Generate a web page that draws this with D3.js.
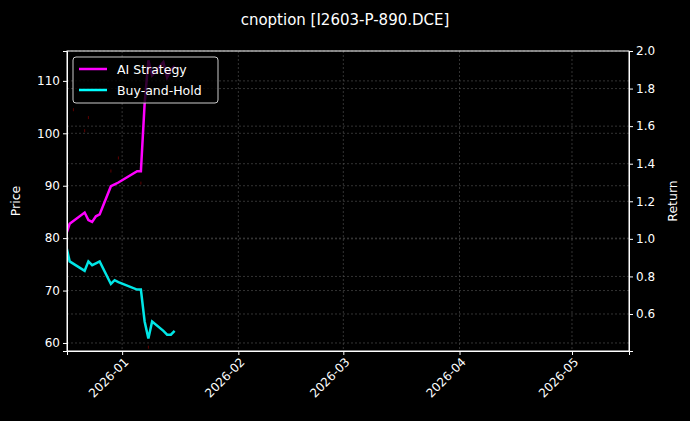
<!DOCTYPE html>
<html>
<head>
<script src="https://d3js.org/d3.v7.min.js"></script>
<style>
  body { margin: 0; background: #000; }
  text { font-family: "DejaVu Sans", sans-serif; fill: #fff; }
</style>
</head>
<body>
<svg id="chart" width="690" height="421"></svg>
<script>
// trading dates and series
var dates = ["2025-12-17","2025-12-18","2025-12-22","2025-12-23","2025-12-24","2025-12-25","2025-12-26",
             "2025-12-29","2025-12-30","2025-12-31","2026-01-05","2026-01-06","2026-01-07","2026-01-08",
             "2026-01-09","2026-01-12","2026-01-13","2026-01-14","2026-01-15"];
var aiReturn = [1.02, 1.08, 1.14, 1.10, 1.09, 1.12, 1.13, 1.28, 1.29, 1.30, 1.36, 1.36, 1.72, 1.95,
                1.87, 1.94, 1.86, 1.90, 1.92];
var bhReturn = [0.97, 0.88, 0.83, 0.88, 0.86, 0.87, 0.88, 0.76, 0.78, 0.77, 0.73, 0.73, 0.56, 0.47,
                0.56, 0.51, 0.49, 0.49, 0.51];
var priceDates = ["2025-12-19","2025-12-22","2025-12-23","2025-12-26","2025-12-29","2025-12-31","2026-01-06","2026-01-08"];
var priceVals = [104.5, 100.5, 103.0, 108.5, 92.8, 95.3, 90.5, 59.2];
var priceTicks = [60, 70, 80, 90, 100, 110];
var returnTicks = [0.6, 0.8, 1.0, 1.2, 1.4, 1.6, 1.8, 2.0];

var parse = d3.timeParse("%Y-%m-%d");
var svg = d3.select("#chart");
var L = 67, R = 629, T = 51, B = 351;

var x = d3.scaleTime().domain([new Date(2025, 11, 17, 7), new Date(2026, 4, 16, 5)]).range([L, R]);
var yP = d3.scaleLinear().domain([58.47, 115.7]).range([B, T]);
var yR = d3.scaleLinear().domain([0.403, 2.0]).range([B, T]);

svg.append("rect").attr("width", 690).attr("height", 421).attr("fill", "#000");

var xTicks = [parse("2026-01-01"), parse("2026-02-01"), parse("2026-03-01"), parse("2026-04-01"), parse("2026-05-01")];

// grid
var grid = svg.append("g").attr("stroke", "#555").attr("stroke-dasharray", "2,2").attr("stroke-width", 0.6);
xTicks.forEach(function (d) { grid.append("line").attr("x1", x(d)).attr("x2", x(d)).attr("y1", T).attr("y2", B); });
priceTicks.forEach(function (d) { grid.append("line").attr("x1", L).attr("x2", R).attr("y1", yP(d)).attr("y2", yP(d)); });
returnTicks.forEach(function (d) { grid.append("line").attr("x1", L).attr("x2", R).attr("y1", yR(d)).attr("y2", yR(d)); });

svg.append("defs").append("clipPath").attr("id", "clip")
  .append("rect").attr("x", L).attr("y", T).attr("width", R - L).attr("height", B - T);

var plot = svg.append("g").attr("clip-path", "url(#clip)");

// price marks (faint)
plot.selectAll(".pd").data(priceVals).enter().append("rect")
  .attr("x", (d, i) => x(parse(priceDates[i])) - 0.5)
  .attr("y", d => yP(d) - 1.5).attr("width", 1).attr("height", 3)
  .attr("fill", "#b00").attr("opacity", 0.5);

var line = d3.line().x((d, i) => x(parse(dates[i]))).y(d => yR(d));
plot.append("path").datum(aiReturn).attr("d", line).attr("fill", "none").attr("stroke", "#ff00ff").attr("stroke-width", 2.5);
plot.append("path").datum(bhReturn).attr("d", line).attr("fill", "none").attr("stroke", "#00ffff").attr("stroke-width", 2.5).attr("opacity", 0.9);

// axes
function style(g) {
  g.selectAll("path, line").attr("stroke", "#fff");
  g.selectAll("text").attr("fill", "#fff").style("font-size", "12px").style("font-family", "DejaVu Sans");
}
svg.append("g").attr("transform", `translate(0,${B})`)
  .call(d3.axisBottom(x).tickValues(xTicks).tickFormat(d3.timeFormat("%Y-%m")).tickSizeOuter(0).tickSize(4))
  .call(style)
  .selectAll("text").attr("text-anchor", "end").attr("dx", "-0.3em").attr("dy", "0.5em")
  .attr("transform", "rotate(-45)");
svg.append("g").attr("transform", `translate(${L},0)`)
  .call(d3.axisLeft(yP).tickValues(priceTicks).tickSizeOuter(0).tickSize(4)).call(style);
svg.append("g").attr("transform", `translate(${R},0)`)
  .call(d3.axisRight(yR).tickValues(returnTicks).tickFormat(d3.format(".1f")).tickSizeOuter(0).tickSize(4)).call(style);
svg.append("rect").attr("x", L).attr("y", T).attr("width", R - L).attr("height", B - T)
  .attr("fill", "none").attr("stroke", "#fff").attr("stroke-width", 1);

svg.append("text").attr("transform", "translate(20,201)rotate(-90)").attr("text-anchor", "middle").style("font-size", "12.5px").text("Price");
svg.append("text").attr("transform", "translate(677,201)rotate(-90)").attr("text-anchor", "middle").style("font-size", "12.5px").text("Return");
svg.append("text").attr("x", 345).attr("y", 25).attr("text-anchor", "middle").style("font-size", "15px").text("cnoption [I2603-P-890.DCE]");

// legend
var leg = svg.append("g").attr("transform", "translate(73,57)");
leg.append("rect").attr("width", 145).attr("height", 46).attr("rx", 3)
  .attr("fill", "#000").attr("fill-opacity", 0.8).attr("stroke", "#ccc");
var items = [["AI Strategy", "#ff00ff"], ["Buy-and-Hold", "#00ffff"]];
items.forEach(function (it, i) {
  leg.append("line").attr("x1", 6).attr("x2", 34).attr("y1", 12 + i * 21).attr("y2", 12 + i * 21)
    .attr("stroke", it[1]).attr("stroke-width", 2.5);
  leg.append("text").attr("x", 44).attr("y", 16.5 + i * 21).style("font-size", "12.5px").text(it[0]);
});
</script>
</body>
</html>
